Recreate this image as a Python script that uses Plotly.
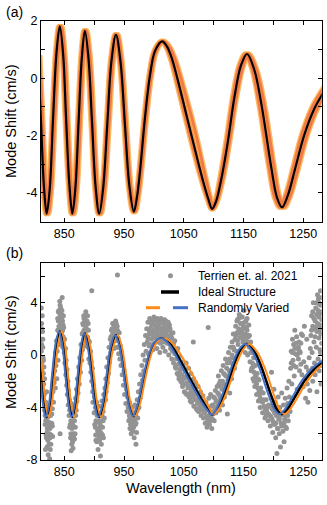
import plotly.graph_objects as go

# wavelength (nm) / mode shift (cm/s) of the ideal structure
ideal_wl = [806, 811, 816, 820.5, 825.5, 831, 837, 842.5, 848, 853, 858.5, 863.5,
            868.5, 874, 879.5, 884.5, 890.5, 896.5, 902.5, 908.5, 915, 922, 929,
            936.5, 944, 951.5, 959, 966.5, 972, 977, 985, 993.5, 1002, 1014, 1022,
            1030, 1046.5, 1063, 1080, 1091, 1097.5, 1104, 1113.5, 1124, 1135, 1146,
            1156, 1168, 1180, 1196.5, 1206, 1214.5, 1224, 1236, 1252, 1269, 1281, 1290]
ideal_shift = [0.8, -1.5, -3.8, -4.72, -3.9, -1.5, 0.9, 1.8, 0.85, -1.4, -3.7, -4.72,
               -3.85, -1.5, 0.75, 1.65, 0.7, -1.55, -3.8, -4.72, -3.85, -1.6, 0.6,
               1.51, 0.6, -1.6, -3.75, -4.65, -4.1, -3.2, -1.4, 0.1, 0.95, 1.28, 1.1,
               0.7, -0.6, -2.0, -3.4, -4.2, -4.55, -4.3, -3.45, -2.2, -0.65, 0.45,
               0.84, 0.3, -0.9, -3.1, -4.15, -4.5, -4.1, -3.2, -1.97, -1.05, -0.6, -0.3]

# randomly varied structures: same resonances, shifted in wavelength
varied_a_wl = [809, 814, 819, 823.5, 828.5, 834, 840, 845.5, 851, 856, 861.5, 866.5,
               871.5, 877, 882.5, 887.5, 893.5, 899.5, 905.5, 911.5, 918, 925, 932,
               939.5, 946.5, 954, 961.5, 969, 974.5, 979.5, 987.5, 996, 1004.5, 1016.5,
               1026, 1035, 1053.5, 1071, 1086, 1095, 1099.5, 1106, 1116.5, 1127, 1138.5,
               1150, 1159, 1172, 1185, 1201.5, 1210.5, 1218.5, 1228.5, 1241, 1257, 1274,
               1286, 1295]
varied_b_wl = [804.5, 809.5, 814.5, 819, 824, 829.5, 835.5, 841, 846.5, 851.5, 857, 862,
               867, 872.5, 878, 883, 889, 895, 901, 907, 913.5, 920.5, 927.5, 935,
               942.5, 950, 957.5, 965, 970.5, 975.5, 983.5, 992, 1000.5, 1012.5, 1020,
               1027.5, 1043.5, 1060, 1077.5, 1089.5, 1096.5, 1102.5, 1111, 1121, 1132,
               1143, 1153, 1164.5, 1176, 1192.5, 1202, 1210.5, 1220, 1232, 1247.5, 1264,
               1276, 1285]

meas = [
    (811.5, 3.6), (812, 2.4), (812, 1.2), (811.5, 0.3), (813, -0.5), (812.5, -1.2), (813.5, 1.8),
    (814, 0.6), (814.5, -0.2), (815, -1.4), (815.5, -2.2), (816, -0.9), (813, 3.0), (812, -2.0),
    (816.5, -3.0), (817, -1.8), (811.5, -0.8), (812, 0.8), (813, -1.7), (814, 1.2), (815, -0.4),
    (812.5, 2.0),
    (817, -4.2), (818, -5.3), (819, -3.6), (819.5, -6.1), (820, -4.8), (821, -7.0), (821.5, -5.6),
    (822, -3.9), (822.5, -6.5), (823, -7.6), (824, -5.1), (824.5, -4.3), (825, -6.0), (825.5, -7.9),
    (826, -5.6), (827, -4.6), (827.5, -6.8), (828, -3.5), (829, -5.2), (830, -4.1), (830.5, -6.2),
    (831, -2.8), (832, -3.6), (833, -2.1), (820.5, -2.8), (818.5, -7.2), (826.5, -7.2),
    (818, -4.6), (819, -5.0), (820, -6.3), (821, -5.9), (822, -5.2), (823, -4.7), (823.5, -6.1),
    (824.5, -6.8), (825, -5.3), (826, -6.3), (827, -5.4), (828, -6.1), (829, -4.5), (830, -5.4),
    (834, -1.2), (835, -2.5), (835.5, 0.2), (836, -0.8), (837, 1.1), (837.5, -1.8), (838, 0.3),
    (839, 1.9), (839.5, -0.4), (843, -6.0),
    (840, 2.6), (840.5, 1.3), (841, 3.4), (841.5, 0.8), (842, 2.0), (842.5, 4.1), (843, 2.9),
    (843.5, 1.5), (844, 3.6), (844.5, 2.3), (845, 0.9), (845.5, 3.1), (846, 1.8), (846.5, 4.4),
    (847, 2.6), (847.5, 0.6), (848, 1.4), (848.5, 3.0), (849, 2.1), (850, 0.2), (850.5, 1.2),
    (851, -0.6), (838.5, 1.0), (839, 2.8), (840, 3.3), (840, 1.9), (841, 2.2), (841.5, 2.7),
    (842, 3.2), (842, 1.2), (843, 3.8), (843.5, 2.5), (844, 1.9), (844.5, 3.1), (845, 2.4),
    (845.5, 1.6), (846, 3.4), (846.5, 2.9), (847, 1.9), (848, 2.3), (849, 1.2),
    (852, 0.5), (852.5, -1.5), (853, -0.4), (854, -2.3), (854.5, -1.1), (855, -3.0), (856, -2.0),
    (856.5, -3.8), (857, -2.7),
    (858, -4.6), (858.5, -3.4), (859, -5.5), (860, -4.1), (860.5, -6.3), (861, -5.0), (862, -3.7),
    (862.5, -6.8), (863, -5.6), (864, -4.5), (864.5, -7.1), (865, -6.0), (866, -5.0), (866.5, -3.9),
    (867, -6.4), (868, -4.6), (868.5, -5.5), (869, -3.3), (870, -4.2), (870.5, -2.6), (871, -3.5),
    (864, -6.6), (861.5, -7.3), (859, -4.2), (860, -5.3), (861, -6.0), (862, -5.4), (863, -6.4),
    (864, -5.1), (865, -5.4), (866, -6.1), (867, -5.0), (868, -6.0), (869, -4.6),
    (872, -1.8), (873, -2.9), (874, -0.9), (875, -2.2), (876, -0.2), (877, -1.3), (878, 0.8),
    (879, -0.4),
    (880, 1.6), (880.5, 0.4), (881, 2.4), (882, 1.1), (882.5, 3.0), (883, 1.9), (884, 0.7),
    (884.5, 2.7), (885, 1.5), (886, 3.3), (886.5, 2.1), (887, 0.9), (888, 2.6), (888.5, 1.4),
    (889, 3.0), (890, 0.6), (890.5, 1.9), (891, -0.3), (892, 1.0), (893, -0.6), (896, 4.9),
    (881, 1.7), (882, 2.3), (883, 2.8), (884, 1.6), (885, 2.4), (886, 1.1), (887, 2.6),
    (888, 1.9), (889, 1.3), (890, 2.4), (891, 1.1),
    (894, 0.3), (894.5, -1.3), (895, -0.5), (896, -2.0), (897, -1.0), (897.5, -2.8), (898, -3.6),
    (899, -2.3),
    (900, -4.4), (900.5, -3.2), (901, -5.3), (902, -4.0), (902.5, -6.1), (903, -5.0), (904, -3.6),
    (904.5, -6.6), (905, -5.6), (906, -4.4), (906.5, -7.2), (907, -6.0), (908, -5.0), (908.5, -3.9),
    (909, -6.5), (910, -5.3), (910.5, -7.7), (911, -4.4), (912, -6.0), (912.5, -5.0), (913, -3.5),
    (914, -5.5), (915, -4.3), (915.5, -6.3), (916, -3.0), (917, -4.8), (918, -2.5),
    (901, -4.4), (902, -5.5), (903, -6.5), (904, -5.1), (905, -4.6), (906, -5.8), (907, -5.1),
    (908, -6.3), (909, -5.6), (910, -4.6), (911, -5.9), (912, -6.8), (913, -4.6), (914, -6.1),
    (915, -5.0),
    (919, -3.4), (919.5, -1.8), (920, -2.8), (921, -0.9), (922, -2.1), (923, -0.2), (924, -1.4),
    (925, 0.6), (926, -0.5),
    (927, 1.2), (928, 0.2), (929, 1.9), (930, 0.8), (931, 2.4), (932, 1.4), (933, 0.5), (934, 2.1),
    (935, 1.1), (936, 2.6), (937, 1.7), (938, 0.6), (938.5, 2.2), (939, 6.1), (940, 1.3),
    (941, 0.1), (942, 1.7), (943, -0.3), (944, 0.7), (928, 1.4), (929, 0.9), (930, 2.0),
    (931, 1.6), (932, 2.4), (933, 1.8), (934, 1.1), (935, 2.3), (936, 1.6), (937, 2.4),
    (938, 1.3), (939, 1.9), (940, 0.6),
    (945, -0.8), (946, 0.2), (947, -1.5), (948, -0.6), (949, -2.3), (950, -1.2), (951, -3.0),
    (952, -1.9), (953, -3.7), (954, -2.6), (955, -4.3), (956, -3.2),
    (957, -4.0), (958, -5.0), (959, -3.6), (960, -5.6), (961, -4.4), (962, -6.0), (963, -5.2),
    (964, -4.0), (965, -5.8), (966, -4.7), (967, -6.3), (968, -3.8), (969, -5.3), (970, -4.4),
    (971, -5.9), (972, -3.4), (973, -4.8), (974, -2.8), (975, -4.0), (976, -2.2), (977, -3.3),
    (970, -6.8), (962.8, -5.7), (959, -4.6), (960, -4.8), (961, -5.3), (962, -4.7), (963, -4.4),
    (964, -5.6), (965, -4.9), (966, -5.5), (967, -4.4), (968, -5.1), (969, -4.6), (970, -5.2),
    (971, -4.8), (972, -4.2), (973, -4.0),
    (978, -1.5), (979, -2.6), (980, -0.8), (981, -1.9), (982, 0.0), (983, -1.2), (984, 0.8),
    (985, -0.4), (986, 1.5), (987, 0.3), (988, 2.0), (989, 1.0), (990, 2.5),
    (991, 0.1), (992, 1.6), (993, 2.8), (994, 0.8), (995, 2.1), (996, 1.2), (997, 2.6), (998, 0.4),
    (999, 1.8), (1000, 2.9), (1001, 0.9), (1002, 2.3), (1003, 1.4), (1004, 2.7), (1005, 0.5),
    (1006, 1.9), (1007, 2.5), (1008, 1.0), (1009, 2.2), (1010, 0.2), (1011, 1.6), (1012, 2.8),
    (1013, 1.1), (1014, 2.0), (1015, 0.6), (1016, 2.4), (1017, 1.3), (1018, 2.7), (1019, 0.3),
    (1020, 1.8), (1021, 2.2), (1022, 0.9), (1023, 1.5), (1024, 2.5), (1025, 0.0), (1026, 1.2),
    (1027, 2.0), (1028, 0.5), (1029, 1.6), (1030, -0.3), (1031, 0.9), (1032, 1.7), (1033, -0.6),
    (1034, 0.4), (1035, 1.1),
    (990, 1.3), (992, 0.7), (993, 1.8), (995, 0.7), (996, 2.4), (998, 1.5), (999, 2.6), (1001, 1.9),
    (1002, 1.3), (1003, 2.2), (1005, 1.6), (1006, 2.8), (1008, 2.0), (1009, 1.4), (1010, 2.5),
    (1011, 0.9), (1013, 1.7), (1014, 2.6), (1015, 1.5), (1016, 1.0), (1017, 2.1), (1019, 1.6),
    (1020, 2.6), (1021, 1.0), (1022, 1.9), (1024, 1.1), (1025, 1.9), (1026, 2.3), (1027, 0.8),
    (1028, 1.5), (1030, 1.3), (1031, 0.3), (1033, 0.9), (1035, 0.1),
    (1036, -0.9), (1037, 0.2), (1038, -0.3), (1039, -1.4), (1040, 0.5), (1041, -0.7), (1042, -1.8),
    (1043, -0.1), (1044, -1.1), (1045, -2.0), (1046, -0.5), (1047, -1.5), (1048, -2.4),
    (1049, -0.9), (1050, -1.8), (1051, -2.8), (1052, -1.2), (1053, -2.2), (1054, -0.6),
    (1055, -3.0), (1056, -1.6), (1057, -2.5), (1058, -1.0), (1059, -3.2), (1060, -2.0),
    (1061, -2.9), (1062, -1.4), (1063, -3.6), (1064, -2.4), (1065, -3.2), (1066, 1.0),
    (1066.5, -1.8), (1067, -3.9), (1068, -2.7), (1069, -3.4), (1070, -2.1), (1071, -4.1),
    (1072, -3.0), (1073, -3.7), (1074, -2.4), (1075, -4.3), (1076, -3.3), (1077, -4.0),
    (1078, -2.8), (1079, -4.6), (1080, -3.6), (1081, -4.2), (1082, -3.1), (1083, -4.8), (1084, -3.9),
    (1037, -1.0), (1039, -0.2), (1041, -1.5), (1043, -1.3), (1045, -1.0), (1047, -2.1),
    (1049, -1.7), (1051, -1.7), (1053, -2.9), (1055, -2.1), (1057, -1.7), (1059, -2.4),
    (1061, -3.5), (1063, -2.7), (1065, -2.4), (1067, -3.0), (1069, -2.6), (1071, -3.4),
    (1073, -4.2), (1075, -3.6), (1077, -3.2), (1079, -3.9), (1081, -3.5), (1083, -4.2),
    (1085, -4.4), (1086, -5.2), (1087, -3.6), (1088, -4.7), (1089, -5.5), (1090, -4.1), (1091, 2.1),
    (1091.5, -4.9), (1092, -3.3), (1093, -5.3), (1094, -4.3), (1095, -3.0), (1096, -4.8),
    (1097, -5.6), (1098, -3.8), (1099, -4.5), (1100, -3.2), (1101, -5.0), (1102, -4.0),
    (1103, -2.7), (1104, -4.4), (1105, -3.5), (1086, -4.1), (1088, -3.9), (1090, -5.0),
    (1092, -4.6), (1094, -5.0), (1096, -3.9), (1098, -4.9), (1100, -4.3), (1102, -3.3), (1104, -3.6),
    (1106, -2.4), (1107, -3.9), (1108, -1.6), (1109, -3.0), (1110, -4.2), (1111, -2.0),
    (1112, -3.4), (1113, -1.2), (1114, -2.6), (1115, -3.8), (1116, -0.8), (1117, -2.2),
    (1118, -3.2), (1119, -1.5), (1120, -0.3), (1121, -2.6), (1122, -1.0), (1123, -4.5),
    (1124, -1.9), (1125, 0.2), (1126, -1.2), (1127, -2.9), (1128, 0.6), (1129, -0.6), (1130, -1.8),
    (1131, 1.0), (1132, -0.2), (1133, 1.6), (1134, 0.4), (1135, -1.0),
    (1107, -2.9), (1109, -2.2), (1111, -3.2), (1113, -2.4), (1115, -2.0), (1117, -1.4),
    (1119, -2.6), (1121, -1.6), (1123, -0.6), (1125, -1.6), (1127, -0.3), (1129, -1.4),
    (1131, 0.0), (1133, 0.6),
    (1136, 1.2), (1137, 2.2), (1138, 0.3), (1139, 1.7), (1140, 2.7), (1141, 0.8), (1142, 2.0),
    (1143, 3.1), (1144, 1.3), (1145, 2.4), (1146, 0.4), (1147, 1.8), (1148, 2.9), (1149, 1.0),
    (1150, 2.2), (1151, 3.4), (1152, 1.5), (1153, 0.2), (1154, 2.6), (1155, 1.1), (1156, 1.9),
    (1157, 0.0), (1158, 1.4), (1159, 2.3), (1160, 0.6),
    (1137, 1.5), (1139, 2.6), (1140, 1.1), (1142, 2.8), (1143, 1.8), (1145, 1.6), (1146, 2.9),
    (1147, 2.4), (1149, 2.0), (1150, 1.3), (1152, 2.5), (1153, 1.6), (1155, 2.1), (1156, 2.8),
    (1157, 1.5), (1158, 0.8), (1160, 1.5),
    (1161, -0.5), (1162, 1.0), (1163, -1.2), (1164, 0.2), (1165, -0.6), (1166, -1.8), (1167, -0.2),
    (1168, -1.3), (1169, -2.4), (1170, -0.8), (1171, -1.9), (1172, -3.0), (1173, -1.4),
    (1174, -2.5), (1175, -3.5), (1176, -1.9), (1177, -3.0), (1178, -4.0), (1179, -2.5),
    (1180, -3.5), (1182, -4.4), (1183, -2.9), (1185, -3.9), (1186, -4.8), (1188, -3.4),
    (1189, -4.3), (1191, -5.0), (1192, -3.8), (1194, -4.6),
    (1162, 0.2), (1164, -1.0), (1166, -0.9), (1168, -2.0), (1170, -1.6), (1172, -2.2),
    (1174, -1.8), (1176, -2.8), (1178, -3.3), (1180, -2.8), (1182, -3.6), (1184, -3.4),
    (1186, -4.1), (1188, -4.6), (1190, -4.0), (1192, -4.5),
    (1195, -5.4), (1196, -3.9), (1197, -1.3), (1198, -4.9), (1199, -5.9), (1200, -4.2),
    (1201, -2.6), (1202, -5.3), (1203, -3.6), (1204, -6.3), (1205, -4.6), (1206, -7.5),
    (1207, -5.6), (1208, -3.2), (1209, -4.9), (1210, -6.0), (1211, -4.0), (1212, -7.0),
    (1213, -5.2), (1214, -2.9), (1215, -4.5), (1216, -5.8), (1217, -3.8), (1218, -6.6),
    (1219, -4.9), (1220, -3.3), (1221, -5.5), (1222, -4.2), (1223, -2.5), (1224, -3.7),
    (1225, -5.0), (1226, -2.0), (1227, -3.2), (1228, -4.3),
    (1196, -4.7), (1198, -4.1), (1200, -5.1), (1202, -4.4), (1204, -5.2), (1206, -4.0),
    (1208, -5.6), (1210, -4.9), (1212, -4.6), (1214, -5.4), (1216, -4.4), (1218, -5.2),
    (1220, -4.6), (1222, -5.6), (1224, -4.6), (1226, -4.0),
    (1229, -1.0), (1230, 0.3), (1231, -2.2), (1232, 1.2), (1233, -0.4), (1234, 0.8), (1235, -1.6),
    (1236, 1.9), (1237, 0.1), (1238, -0.9), (1239, 1.4), (1240, -2.6), (1241, 0.5), (1242, -0.3),
    (1243, 1.0), (1244, -1.2), (1245, 0.2), (1246, -0.7), (1247, 1.6),
    (1230, -0.6), (1232, 0.2), (1234, -0.8), (1236, 0.5), (1238, 0.9), (1240, 0.0), (1242, 0.6),
    (1244, 0.3), (1246, 0.9),
    (1248, -1.5), (1250, -2.4), (1251, -0.5), (1253, -1.8), (1254, -3.3), (1255, -0.9),
    (1257, -2.2), (1258, -3.6), (1259, -1.2), (1260, -0.2), (1261, -2.7), (1262, 0.5),
    (1249, 1.5), (1252, 2.2), (1256, 1.2),
    (1263, 1.5), (1264, 3.0), (1265, 0.2), (1266, 2.2), (1267, 4.0), (1268, 1.0), (1269, -0.6),
    (1270, 2.6), (1271, 3.6), (1272, 0.6), (1273, 1.8), (1274, 4.6), (1275, -0.3), (1276, 2.9),
    (1276.5, 1.3), (1277, 3.9), (1278, 0.4), (1278.5, 2.3), (1279, 4.9), (1279.5, 1.6),
    (1280, 3.3), (1280.5, -0.8), (1281, 2.7), (1275.5, 4.3), (1272.5, 3.1), (1268.5, 2.0),
    (1265.5, -1.0), (1266, -2.0), (1270, -1.5), (1273, -2.8), (1277, -1.2), (1280, -2.2),
    (1264, 1.9), (1266, 3.3), (1268, 2.8), (1270, 1.4), (1271, 2.1), (1272, 4.0), (1274, 2.4),
    (1275, 3.4), (1276, 4.0), (1277, 2.1), (1278, 3.1), (1279, 3.8), (1280, 1.9), (1281, 4.4),
    (1281, 0.9), (1279, 0.2),
]
meas_wl = [p[0] for p in meas]
meas_shift = [p[1] for p in meas]

x_tickvals = [850, 900, 950, 1000, 1050, 1100, 1150, 1200, 1250]
x_ticktext = ["850", "", "950", "", "1050", "", "1150", "", "1250"]
ya_tickvals = [-5, -4, -3, -2, -1, 0, 1, 2]
ya_ticktext = ["", "-4", "", "-2", "", "0", "", "2"]
yb_tickvals = [-8, -6, -4, -2, 0, 2, 4, 6]
yb_ticktext = ["-8", "", "-4", "", "0", "", "4", ""]

W, H = 327, 505
FONT = "Liberation Sans, Arial, sans-serif"


def px(x):
    return x / W


def py(y):
    return 1 - y / H


fig = go.Figure()

# panel (a): band of varied structures under the ideal curve
band = [
    (varied_a_wl, "#fdbb64", 5.5),
    (varied_b_wl, "#fdbb64", 5.5),
    (ideal_wl, "#f8993f", 5),
    (varied_a_wl, "#f27a45", 2.8),
    (varied_b_wl, "#f27a45", 2.8),
    (ideal_wl, "black", 2.2),
]
for wl, col, w in band:
    fig.add_trace(go.Scatter(x=wl, y=ideal_shift, mode="lines", line=dict(color=col, width=w, shape="spline"),
                             xaxis="x", yaxis="y", showlegend=False, hoverinfo="skip"))

# panel (b)
fig.add_trace(go.Scatter(x=meas_wl, y=meas_shift, mode="markers",
                         marker=dict(color="#939393", size=5), xaxis="x2", yaxis="y2", showlegend=False))
fig.add_trace(go.Scatter(x=ideal_wl, y=ideal_shift, mode="lines", line=dict(color="black", width=2.6, shape="spline"),
                         xaxis="x2", yaxis="y2", showlegend=False))
fig.add_trace(go.Scatter(x=varied_a_wl, y=ideal_shift, mode="lines", line=dict(color="#ff8c1a", width=2, shape="spline"),
                         xaxis="x2", yaxis="y2", showlegend=False))
fig.add_trace(go.Scatter(x=varied_b_wl, y=ideal_shift, mode="lines", line=dict(color="#4472c4", width=2, shape="spline"),
                         xaxis="x2", yaxis="y2", showlegend=False))

ax_common = dict(showline=True, linecolor="black", linewidth=1.2, mirror="ticks", ticks="inside",
                 ticklen=4, tickwidth=1, tickcolor="black", showgrid=False, zeroline=False,
                 tickfont=dict(family=FONT, size=12.5, color="black"), automargin=False)
xdom = [px(41), px(321.7)]

fig.update_layout(
    width=W, height=H, margin=dict(l=0, r=0, t=0, b=0),
    plot_bgcolor="white", paper_bgcolor="white",
    xaxis=dict(domain=xdom, range=[811, 1281], tickvals=x_tickvals, ticktext=x_ticktext, anchor="y", **ax_common),
    yaxis=dict(domain=[py(221.7), py(20.7)], range=[-5, 2], tickvals=ya_tickvals, ticktext=ya_ticktext,
               anchor="x", **ax_common),
    xaxis2=dict(domain=xdom, range=[811, 1281], tickvals=x_tickvals, ticktext=x_ticktext, anchor="y2", **ax_common),
    yaxis2=dict(domain=[py(460), py(263.3)], range=[-8, 7], tickvals=yb_tickvals, ticktext=yb_ticktext,
                anchor="x2", **ax_common),
)

def note(text, x, y, size, angle=0, xanchor="center"):
    fig.add_annotation(text=text, x=px(x), y=py(y), xref="paper", yref="paper", showarrow=False,
                       textangle=angle, xanchor=xanchor, yanchor="middle",
                       font=dict(family=FONT, size=size, color="black"))

note("(a)", 4, 12, 14, xanchor="left")
note("(b)", 4, 253, 14, xanchor="left")
note("Mode Shift (cm/s)", 11, 121, 14.5, angle=-90)
note("Mode Shift (cm/s)", 11, 352, 14.5, angle=-90)
note("Wavelength (nm)", 181, 488, 14.5)

# legend of panel (b)
legend_rows = ["Terrien et. al. 2021", "Ideal Structure", "Randomly Varied"]
row_y = [275.7, 292, 307.7]
for label, y in zip(legend_rows, row_y):
    note(label, 196, y, 12, xanchor="left")
fig.add_shape(type="circle", xref="paper", yref="paper", x0=px(168), x1=px(173), y0=py(row_y[0] + 2.5),
              y1=py(row_y[0] - 2.5), fillcolor="#939393", line=dict(width=0))
fig.add_shape(type="line", xref="paper", yref="paper", x0=px(161), x1=px(179), y0=py(row_y[1]), y1=py(row_y[1]),
              line=dict(color="black", width=3.5))
fig.add_shape(type="line", xref="paper", yref="paper", x0=px(146), x1=px(160), y0=py(row_y[2]), y1=py(row_y[2]),
              line=dict(color="#ff8c1a", width=3))
fig.add_shape(type="line", xref="paper", yref="paper", x0=px(173), x1=px(188), y0=py(row_y[2]), y1=py(row_y[2]),
              line=dict(color="#4472c4", width=3))

# drop the browser's default 8 px body margin so the figure sits at the page corner
fig.write_html("out.html", config={"displayModeBar": False},
               post_script="document.body.style.margin='0';document.body.style.overflow='hidden';")
